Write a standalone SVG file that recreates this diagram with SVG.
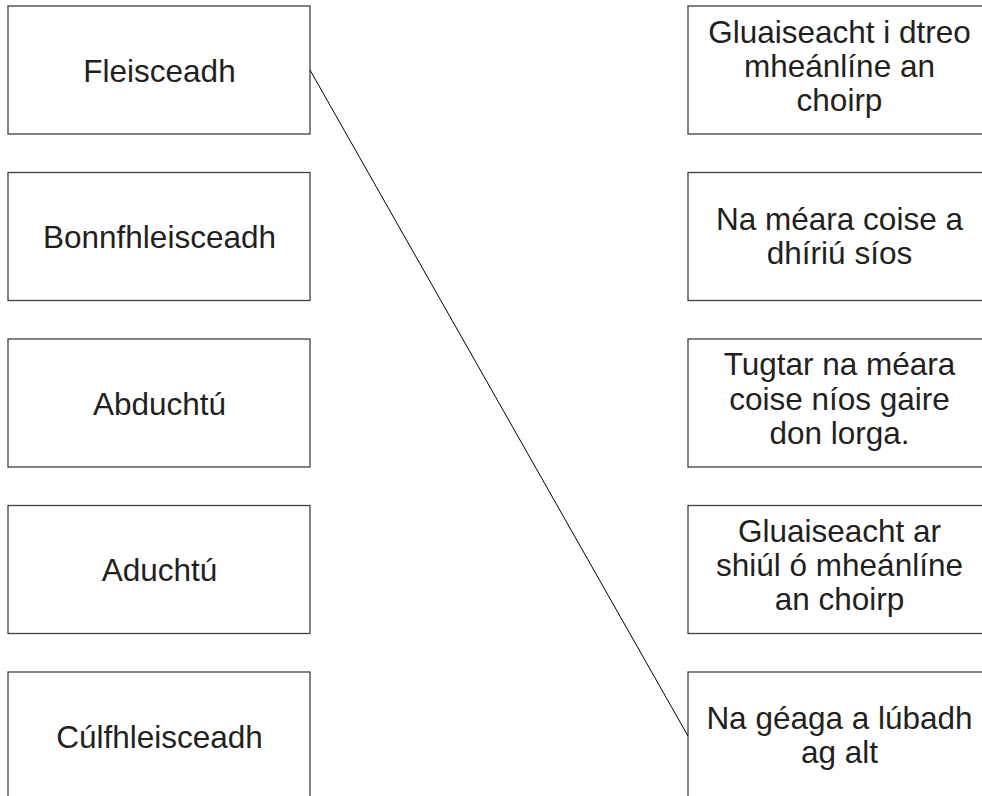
<svg xmlns="http://www.w3.org/2000/svg" width="982" height="796" viewBox="0 0 982 796">
<style>
  .box { fill: #ffffff; stroke: #404040; stroke-width: 1.3; }
  .lbl { font-family: "Liberation Sans", Arial, sans-serif; font-size: 31.5px; fill: #231f20; text-anchor: middle; }
  .conn { stroke: #000000; stroke-width: 1; fill: none; }
</style>
<rect width="982" height="796" fill="#ffffff"/>
<g id="left-1"><rect class="box" x="8" y="6" width="302" height="128"/><text class="lbl" x="159.5" y="81.7">Fleisceadh</text></g>
<g id="left-2"><rect class="box" x="8" y="172.5" width="302" height="128"/><text class="lbl" x="159.5" y="248.3">Bonnfhleisceadh</text></g>
<g id="left-3"><rect class="box" x="8" y="339" width="302" height="128"/><text class="lbl" x="159.5" y="414.7">Abduchtú</text></g>
<g id="left-4"><rect class="box" x="8" y="505.5" width="302" height="128"/><text class="lbl" x="159.5" y="581.2">Aduchtú</text></g>
<g id="left-5"><rect class="box" x="8" y="672" width="302" height="128"/><text class="lbl" x="159.5" y="747.7">Cúlfhleisceadh</text></g>
<g id="right-1"><rect class="box" x="688" y="6" width="302" height="128"/>
  <text class="lbl" x="839.5" y="42.5">Gluaiseacht i dtreo</text>
  <text class="lbl" x="839.5" y="76.7">mheánlíne an</text>
  <text class="lbl" x="839.5" y="111">choirp</text></g>
<g id="right-2"><rect class="box" x="688" y="172.5" width="302" height="128"/>
  <text class="lbl" x="839.5" y="230">Na méara coise a</text>
  <text class="lbl" x="839.5" y="264.3">dhíriú síos</text></g>
<g id="right-3"><rect class="box" x="688" y="339" width="302" height="128"/>
  <text class="lbl" x="839.5" y="375.3">Tugtar na méara</text>
  <text class="lbl" x="839.5" y="409.6">coise níos gaire</text>
  <text class="lbl" x="839.5" y="443.9">don lorga.</text></g>
<g id="right-4"><rect class="box" x="688" y="505.5" width="302" height="128"/>
  <text class="lbl" x="839.5" y="541.5">Gluaiseacht ar</text>
  <text class="lbl" x="839.5" y="575.8">shiúl ó mheánlíne</text>
  <text class="lbl" x="839.5" y="610">an choirp</text></g>
<g id="right-5"><rect class="box" x="688" y="672" width="302" height="128"/>
  <text class="lbl" x="839.5" y="728.5">Na géaga a lúbadh</text>
  <text class="lbl" x="839.5" y="763">ag alt</text></g>
<g id="connectors"><line class="conn" x1="310" y1="70" x2="688" y2="736"/></g>
</svg>
